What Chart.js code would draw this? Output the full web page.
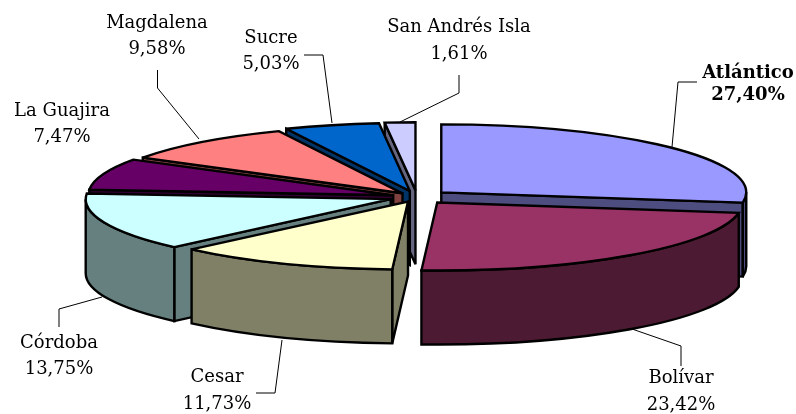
<!DOCTYPE html>
<html>
<head>
<meta charset="utf-8">
<style>
  html, body { margin: 0; padding: 0; background: #fff; }
  canvas { display: block; }
</style>
</head>
<body>
<canvas id="mychart" width="796" height="414"></canvas>
<script src="https://cdn.jsdelivr.net/npm/chart.js@4"></script>
<script>
const categories = ["Atlántico", "Bolívar", "Cesar", "Córdoba", "La Guajira", "Magdalena", "Sucre", "San Andrés Isla"];
const shares = [27.4, 23.42, 11.73, 13.75, 7.47, 9.58, 5.03, 1.61];
const topColors = ["#9999ff", "#993366", "#ffffcc", "#ccffff", "#660066", "#ff8080", "#0066cc", "#ccccff"];
const wallColors = ["#4d4d80", "#4d1a33", "#808066", "#668080", "#330033", "#804040", "#003366", "#666680"];
const explode = [32, 32, 22, 28, 25, 22, 28, 30];

// back to front, so nearer slices paint over the farther walls
const drawOrder = [7, 6, 5, 4, 0, 3, 1, 2];

const centerX = 417;
const centerY = 197;
const squash = 0.223;
const depth = 74;

// [center x, first line y, second line y] and the leader polyline of each label
const labelPos = [
  [748, 73, 95],
  [681, 378, 405],
  [217, 377, 404],
  [59, 343, 369],
  [62, 111, 137],
  [157, 23, 49],
  [271, 38, 64],
  [459, 27, 54],
];
const leaders = [
  [[697, 82], [678, 82], [672, 147]],
  [[632, 329], [681, 346], [681, 366]],
  [[282, 340], [275, 393], [256, 393]],
  [[102, 297], [59, 309], [59, 327]],
  [],
  [[157.5, 70], [157.5, 88], [199, 139]],
  [[304, 55], [323, 55], [332, 123]],
  [[459, 75], [459, 93], [400, 122]],
];

const pie3d = {
  id: "pie3d",
  beforeDatasetDraw(chart, args) {
    const ctx = chart.ctx;
    const arcs = args.meta.data;

    drawOrder.forEach((i) => {
      const arc = arcs[i];
      const s = arc.startAngle;
      const e = arc.endAngle;
      const mid = (s + e) / 2;
      const R = arc.outerRadius;
      const px = centerX + Math.cos(mid) * explode[i];
      const py = centerY + Math.sin(mid) * explode[i] * squash;

      ctx.save();
      ctx.lineWidth = 2.4;
      ctx.strokeStyle = "#000";
      ctx.lineJoin = "miter";
      ctx.miterLimit = 2.5;
      ctx.fillStyle = wallColors[i];

      // cut walls
      const cutWall = (a) => {
        const rx = px + Math.cos(a) * R;
        const ry = py + Math.sin(a) * R * squash;
        ctx.beginPath();
        ctx.moveTo(px, py);
        ctx.lineTo(rx, ry);
        ctx.lineTo(rx, ry + depth);
        ctx.lineTo(px, py + depth);
        ctx.closePath();
        ctx.fill();
        ctx.stroke();
      };
      if (Math.cos(s) < 0) cutWall(s);
      if (Math.cos(e) > 0) cutWall(e);

      // rim wall, only the part that faces the viewer
      const a = Math.max(s, 0);
      const b = Math.min(e, Math.PI);
      if (a < b) {
        ctx.beginPath();
        ctx.ellipse(px, py, R, R * squash, 0, a, b);
        ctx.ellipse(px, py + depth, R, R * squash, 0, b, a, true);
        ctx.closePath();
        ctx.fill();
        ctx.stroke();
      }

      // top face: the library arc, flattened
      ctx.save();
      ctx.translate(px, py);
      ctx.scale(1, squash);
      ctx.translate(-arc.x, -arc.y);
      arc.draw(ctx);
      ctx.restore();

      // outline after the flattening so the line keeps its width
      ctx.beginPath();
      ctx.moveTo(px, py);
      ctx.ellipse(px, py, R, R * squash, 0, s, e);
      ctx.closePath();
      ctx.stroke();
      ctx.restore();
    });
    return false;
  },
  afterDraw(chart) {
    const ctx = chart.ctx;
    ctx.save();
    ctx.strokeStyle = "#000";
    ctx.lineWidth = 1;
    leaders.forEach((pts) => {
      if (!pts.length) return;
      ctx.beginPath();
      pts.forEach((p, k) => (k ? ctx.lineTo(p[0], p[1]) : ctx.moveTo(p[0], p[1])));
      ctx.stroke();
    });
    ctx.fillStyle = "#000";
    ctx.textAlign = "center";
    ctx.textBaseline = "middle";
    categories.forEach((name, i) => {
      ctx.font = (i === 0 ? "bold " : "") + "18px 'DejaVu Serif'";
      ctx.fillText(name, labelPos[i][0], labelPos[i][1]);
      ctx.fillText(shares[i].toFixed(2).replace(".", ",") + "%", labelPos[i][0], labelPos[i][2]);
    });
    ctx.restore();
  },
};

new Chart(document.getElementById("mychart"), {
  type: "pie",
  data: {
    labels: categories,
    datasets: [
      {
        data: shares,
        backgroundColor: topColors,
        borderWidth: 0,
        radius: 305,
        clip: false,
      },
    ],
  },
  options: {
    responsive: false,
    animation: false,
    events: [],
    plugins: {
      legend: { display: false },
      tooltip: { enabled: false },
    },
  },
  plugins: [pie3d],
});
</script>
</body>
</html>
